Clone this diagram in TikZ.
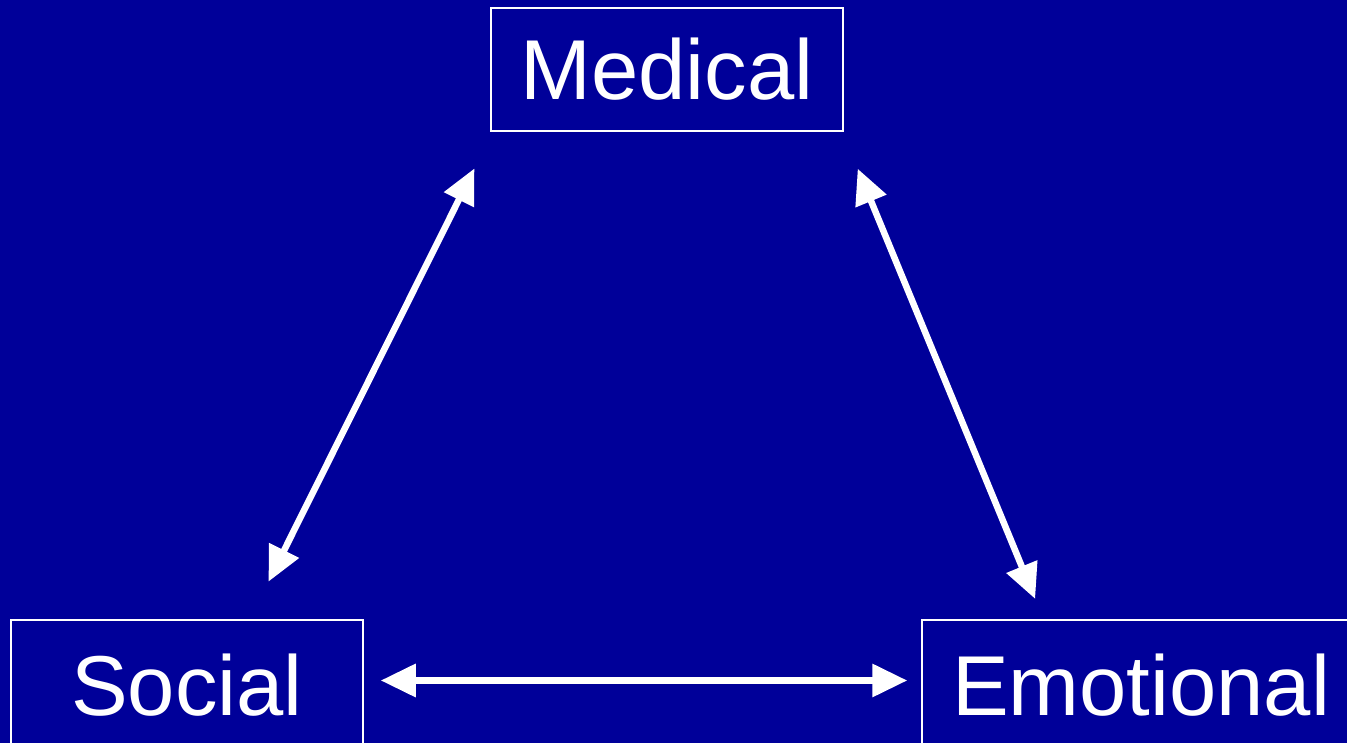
\documentclass[tikz,border=0pt]{standalone}
\usepackage{fontspec}
\setmainfont{Liberation Sans}
\usetikzlibrary{arrows.meta}
\definecolor{slideblue}{RGB}{0,0,153}

\begin{document}
\begin{tikzpicture}[
  x=1pt, y=1pt,
  box/.style={draw=white, line width=1.5pt, text=white, minimum width=352pt, minimum height=123pt, inner sep=0pt, font=\fontsize{85}{92}\selectfont},
  arrow/.style={{Triangle[length=35pt,width=32pt]}-{Triangle[length=35pt,width=32pt]}, white, line width=6.5pt}
]

% Background
\fill[slideblue] (0,0) rectangle (1347,743);
\clip (0,0) rectangle (1347,743);

% Areas
\node[box] (medical) at (667, 673.5) {Medical};
\node[box, minimum height=130pt] (social) at (187, 58) {Social};
\node[box, minimum width=438pt, minimum height=130pt] (emotional) at (1141, 58) {Emotional};

% Arrows
\draw[arrow, shorten <=42pt, shorten >=41pt] ([xshift=-114pt]social.north east) -- ([xshift=2.5pt]medical.south west);
\draw[arrow, shorten <=40pt, shorten >=22pt] ([xshift=-1.3pt]medical.south east) -- ([xshift=122.3pt]emotional.north west);
\draw[arrow, shorten <=17pt, shorten >=14pt] ([yshift=4.5pt]social.east) -- ([yshift=4.5pt]emotional.west);

\end{tikzpicture}
\end{document}
